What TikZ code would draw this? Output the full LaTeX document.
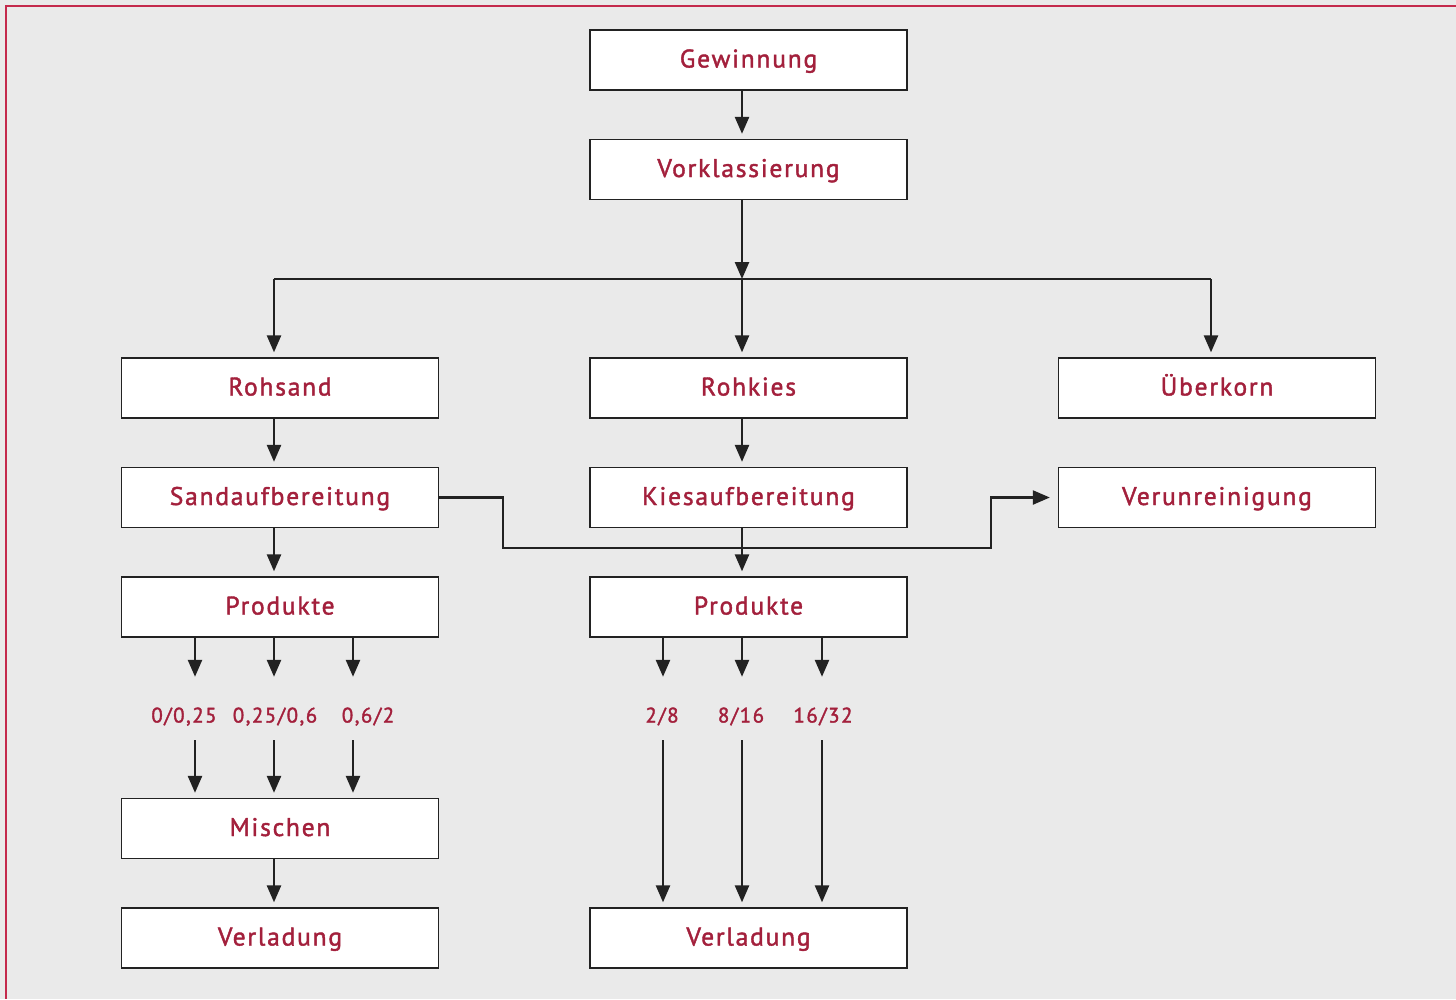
\documentclass[tikz,border=0pt]{standalone}
\usepackage{fontspec}
\setmainfont{PT Sans}[LetterSpace=7, FakeBold=1.6]
\usetikzlibrary{arrows.meta}
\definecolor{bg}{HTML}{EAEAEA}
\definecolor{txt}{HTML}{A3203C}
\definecolor{frame}{HTML}{C42A4C}
\definecolor{ln}{HTML}{222222}
\tikzset{
  box/.style={draw=ln, line width=1.3pt, fill=white, minimum width=317pt, minimum height=60pt, inner sep=0pt, text=txt, text height=17pt, text depth=2pt, font=\fontsize{25.5}{28}\selectfont},
  lab/.style={text=txt, minimum height=48pt, inner sep=0pt, text height=14pt, text depth=1pt, font=\fontsize{21}{24}\selectfont},
  conn/.style={draw=ln, line width=2.5pt},
  arr/.style={conn, -{Triangle[length=17pt,width=14pt]}, shorten >=5pt}
}
\begin{document}
\begin{tikzpicture}[x=1pt,y=-1pt]
\useasboundingbox (0,0) rectangle (1456,999);
\fill[bg] (0,0) rectangle (1456,999);
\draw[frame, line width=2pt] (1456,6) -- (6,6) -- (6,999);
% nodes
\node[box] (gew) at (748.5,60) {Gewinnung};
\node[box] (vork) at (748.5,169.5) {Vorklassierung};
\node[box] (rsand) at (280,388) {Rohsand};
\node[box] (rkies) at (748.5,388) {Rohkies};
\node[box] (uebk) at (1217,388) {Überkorn};
\node[box] (sand) at (280,497.5) {Sandaufbereitung};
\node[box] (kies) at (748.5,497.5) {Kiesaufbereitung};
\node[box] (verun) at (1217,497.5) {Verunreinigung};
\node[box] (prodL) at (280,607) {Produkte};
\node[box] (prodR) at (748.5,607) {Produkte};
\node[box] (misch) at (280,828.5) {Mischen};
\node[box] (verlL) at (280,938) {Verladung};
\node[box] (verlR) at (748.5,938) {Verladung};
\node[lab] (la) at (184,716) {0/0,25};
\node[lab] (lb) at (275,716) {0,25/0,6};
\node[lab] (lc) at (368,716) {0,6/2};
\node[lab] (ld) at (662,716) {2/8};
\node[lab] (le) at (741,716) {8/16};
\node[lab] (lf) at (823,716) {16/32};
% columns
\coordinate (xa) at (195,0);
\coordinate (xb) at (274,0);
\coordinate (xc) at (353,0);
\coordinate (xd) at (663,0);
\coordinate (xe) at (742,0);
\coordinate (xf) at (822,0);
\coordinate (xg) at (1211,0);
\coordinate (j) at (742,279);
\coordinate (k1) at (503,548);
\coordinate (k2) at (991,548);
% connectors
\draw[arr] (gew.south -| xe) -- (vork.north -| xe);
\draw[conn] (j -| xb) -- (j -| xg);
\draw[arr, shorten >=0pt] (vork.south -| xe) -- (j);
\draw[arr] (j -| xb) -- (rsand.north -| xb);
\draw[arr] (j) -- (rkies.north -| xe);
\draw[arr] (j -| xg) -- (uebk.north -| xg);
\draw[arr] (rsand.south -| xb) -- (sand.north -| xb);
\draw[arr] (rkies.south -| xe) -- (kies.north -| xe);
\draw[arr] (sand.south -| xb) -- (prodL.north -| xb);
\draw[arr] (kies.south -| xe) -- (prodR.north -| xe);
\draw[arr, shorten >=8pt, line width=2.2pt] (sand.east) -| (k1) -- (k2) |- (verun.west);
\foreach \c/\l in {xa/la, xb/lb, xc/lc} {
  \draw[arr, shorten >=15pt] (prodL.south -| \c) -- (\l.north -| \c);
  \draw[arr] (\l.south -| \c) -- (misch.north -| \c);
}
\foreach \c/\l in {xd/ld, xe/le, xf/lf} {
  \draw[arr, shorten >=15pt] (prodR.south -| \c) -- (\l.north -| \c);
  \draw[arr] (\l.south -| \c) -- (verlR.north -| \c);
}
\draw[arr] (misch.south -| xb) -- (verlL.north -| xb);
\end{tikzpicture}
\end{document}
